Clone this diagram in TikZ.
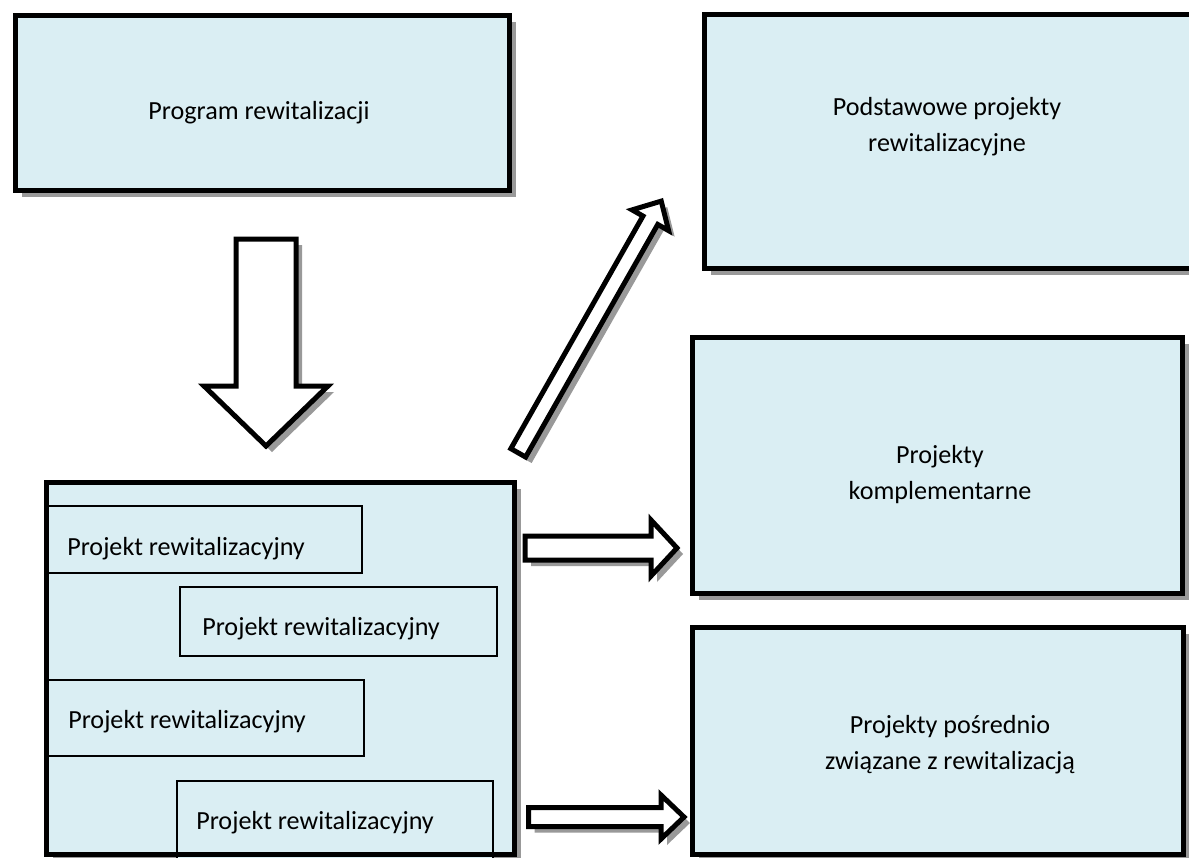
\documentclass[tikz,border=0pt]{standalone}
\usepackage{fontspec}
\setmainfont{Carlito}
\definecolor{boxblue}{HTML}{DAEEF3}
\definecolor{shade}{gray}{0.6}
\tikzset{
  frame/.style={draw=black, line width=3.75pt, fill=boxblue},
  innerbox/.style={draw=black, line width=1.1pt, fill=boxblue},
  shadowfill/.style={fill=shade, draw=none},
  blockarrow/.style={draw=black, line width=3.75pt, fill=white, line join=miter},
  txt/.style={font=\fontsize{19.6}{27}\selectfont, align=center, inner sep=0pt},
}
\begin{document}
\begin{tikzpicture}[x=0.75pt, y=-0.75pt]
\useasboundingbox (0,0) rectangle (1189,857);
\clip (0,0) rectangle (1189,857);
\fill[white] (0,0) rectangle (1189,857);

% ---- box shadows ----
\fill[shadowfill] (21.5,21.5) rectangle (515.5,196.5);
\fill[shadowfill] (710.5,20.5) rectangle (1200,274.5);
\fill[shadowfill] (698.5,343.5) rectangle (1188.5,599.5);
\fill[shadowfill] (698.5,633.5) rectangle (1189.5,870);
\fill[shadowfill] (52.5,488.5) rectangle (520.5,870);

% ---- main boxes ----
\draw[frame] (15.5,15.5) rectangle (509.5,190.5);
\draw[frame] (704.5,14.5) rectangle (1200,268.5);
\draw[frame] (692.5,337.5) rectangle (1182.5,593.5);
\draw[frame] (692.5,627.5) rectangle (1183.5,854.5);
\draw[frame] (46.5,482.5) rectangle (514.5,854.5);

% ---- inner project boxes ----
\draw[innerbox] (47,506) rectangle (362,573);
\draw[innerbox] (180,587) rectangle (497,656);
\draw[innerbox] (47,680) rectangle (364,756);
\draw[innerbox] (177,781) rectangle (493,870);
\draw[line width=3.75pt] (46.5,482.5) rectangle (514.5,854.5);

% ---- texts ----
\node[txt] (prog) at (259,113) {Program rewitalizacji};
\node[txt] (podst) at (947,126.5) {Podstawowe projekty\\rewitalizacyjne};
\node[txt] (kompl) at (940,475) {Projekty\\komplementarne};
\node[txt] (posr) at (950,745) {Projekty pośrednio\\związane z rewitalizacją};
\node[txt, anchor=west] (p1) at (67,549) {Projekt rewitalizacyjny};
\node[txt, anchor=west] (p2) at (202,629) {Projekt rewitalizacyjny};
\node[txt, anchor=west] (p3) at (68,722) {Projekt rewitalizacyjny};
\node[txt, anchor=west] (p4) at (196,823) {Projekt rewitalizacyjny};

% ---- down block arrow ----
\begin{scope}[shift={(6,6)}]
\fill[shadowfill] (236,239) -- (296,239) -- (296,386) -- (328,386) -- (266,446) -- (204,386) -- (236,386) -- cycle;
\end{scope}
\draw[blockarrow] (236,239) -- (296,239) -- (296,386) -- (328,386) -- (266,446) -- (204,386) -- (236,386) -- cycle;

% ---- diagonal block arrow ----
\begin{scope}[shift={(523,461)}, rotate=60.4]
\fill[shadowfill] (2.5,-8.5) -- (270,-8.5) -- (270,-21) -- (292,0) -- (270,21) -- (270,8.5) -- (2.5,8.5) -- cycle;
\end{scope}
\begin{scope}[shift={(517,455)}, rotate=60.4]
\draw[blockarrow] (2.5,-8.5) -- (270,-8.5) -- (270,-21) -- (292,0) -- (270,21) -- (270,8.5) -- (2.5,8.5) -- cycle;
\end{scope}

% ---- right block arrow 1 ----
\begin{scope}[shift={(6,6)}]
\fill[shadowfill] (525,536) -- (651,536) -- (651,520) -- (677,548) -- (651,576) -- (651,560) -- (525,560) -- cycle;
\end{scope}
\draw[blockarrow] (525,536) -- (651,536) -- (651,520) -- (677,548) -- (651,576) -- (651,560) -- (525,560) -- cycle;

% ---- right block arrow 2 ----
\begin{scope}[shift={(6,6)}]
\fill[shadowfill] (528.5,807.5) -- (661,807.5) -- (661,795) -- (684,817) -- (661,839) -- (661,826.5) -- (528.5,826.5) -- cycle;
\end{scope}
\draw[blockarrow] (528.5,807.5) -- (661,807.5) -- (661,795) -- (684,817) -- (661,839) -- (661,826.5) -- (528.5,826.5) -- cycle;
\end{tikzpicture}
\end{document}
